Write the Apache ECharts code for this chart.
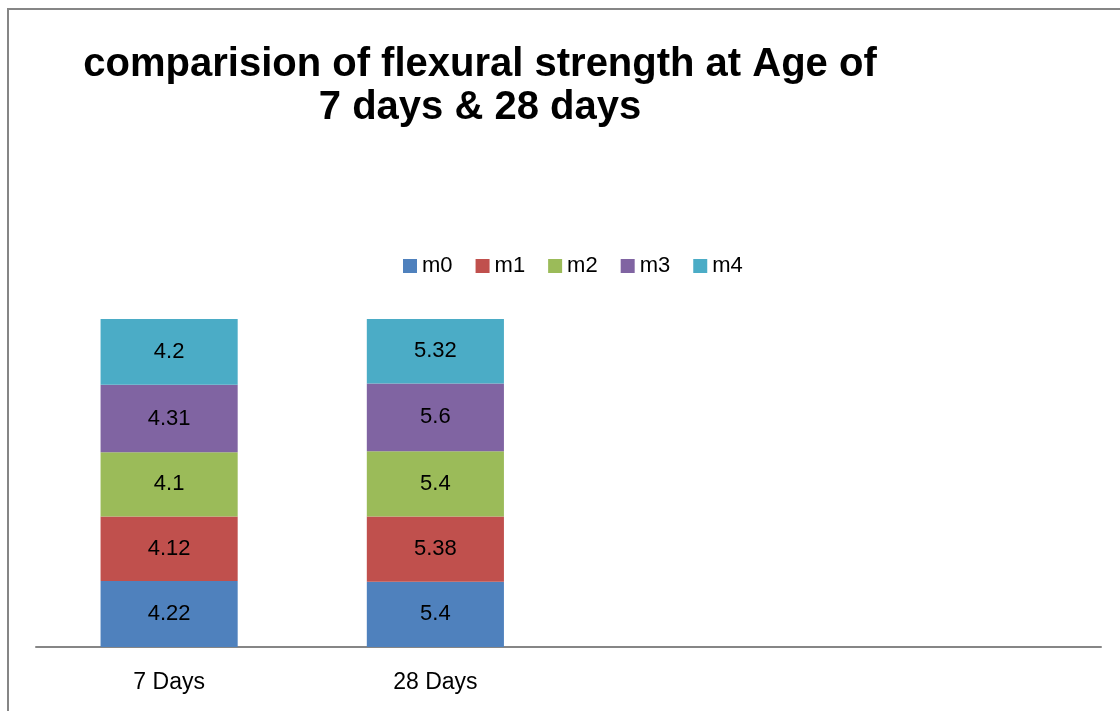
<!DOCTYPE html>
<html>
<head>
<meta charset="utf-8">
<script src="https://cdn.jsdelivr.net/npm/echarts@6/dist/echarts.min.js"></script>
<style>
  html, body { margin: 0; padding: 0; background: #fff; }
  #myChart { width: 1120px; height: 711px; }
</style>
</head>
<body>
<div id="myChart"></div>
<script>
// categories (last two are empty slots on the axis)
var categories = ['7 Days', '28 Days', '', ''];
var seriesNames = ['m0', 'm1', 'm2', 'm3', 'm4'];
var m0 = [4.22, 5.4];
var m1 = [4.12, 5.38];
var m2 = [4.1, 5.4];
var m3 = [4.31, 5.6];
var m4 = [4.2, 5.32];
var colors = ['#4F81BD', '#C0504D', '#9BBB59', '#8064A2', '#4BACC6'];

var allValues = [m0, m1, m2, m3, m4];
var font = '"Liberation Sans Narrow", "Arial Narrow", "Liberation Sans", Arial, sans-serif';

// 100% stacked: each bar shares of its category total
var totals = categories.map(function (c, i) {
  var s = 0;
  allValues.forEach(function (arr) { if (arr[i] != null) s += arr[i]; });
  return s;
});

var series = allValues.map(function (arr, k) {
  return {
    name: seriesNames[k],
    type: 'bar',
    stack: 'total',
    barWidth: '51.5%',
    itemStyle: { color: colors[k] },
    label: {
      show: true,
      position: 'inside',
      color: '#000',
      fontFamily: font,
      fontSize: 22,
      formatter: function (p) { return arr[p.dataIndex]; }
    },
    data: arr.map(function (v, i) { return v / totals[i]; })
  };
});

var myChart = echarts.init(document.getElementById('myChart'));
myChart.setOption({
  animation: false,
  title: {
    text: 'comparision of flexural strength at Age of\n7 days & 28 days',
    left: 475,
    top: 38,
    textAlign: 'center',
    textStyle: {
      fontFamily: font,
      fontWeight: 'bold',
      fontSize: 40,
      lineHeight: 43,
      color: '#000'
    }
  },
  legend: {
    data: seriesNames,
    left: 398,
    top: 250,
    icon: 'rect',
    itemWidth: 14,
    itemHeight: 14,
    itemGap: 23,
    textStyle: { fontFamily: font, fontSize: 22, color: '#000' }
  },
  grid: { left: 36, right: 19, top: 319, bottom: 64, containLabel: false },
  xAxis: {
    type: 'category',
    data: categories,
    axisLine: { lineStyle: { color: '#868686', width: 2 } },
    axisTick: { show: false },
    axisLabel: { fontFamily: font, fontSize: 23, color: '#000', margin: 24 }
  },
  yAxis: {
    type: 'value',
    min: 0,
    max: 1,
    show: false
  },
  graphic: [{
    type: 'rect',
    shape: { x: 8, y: 9, width: 1200, height: 800 },
    style: { fill: 'none', stroke: '#868686', lineWidth: 2 },
    silent: true
  }],
  series: series
});
</script>
</body>
</html>
